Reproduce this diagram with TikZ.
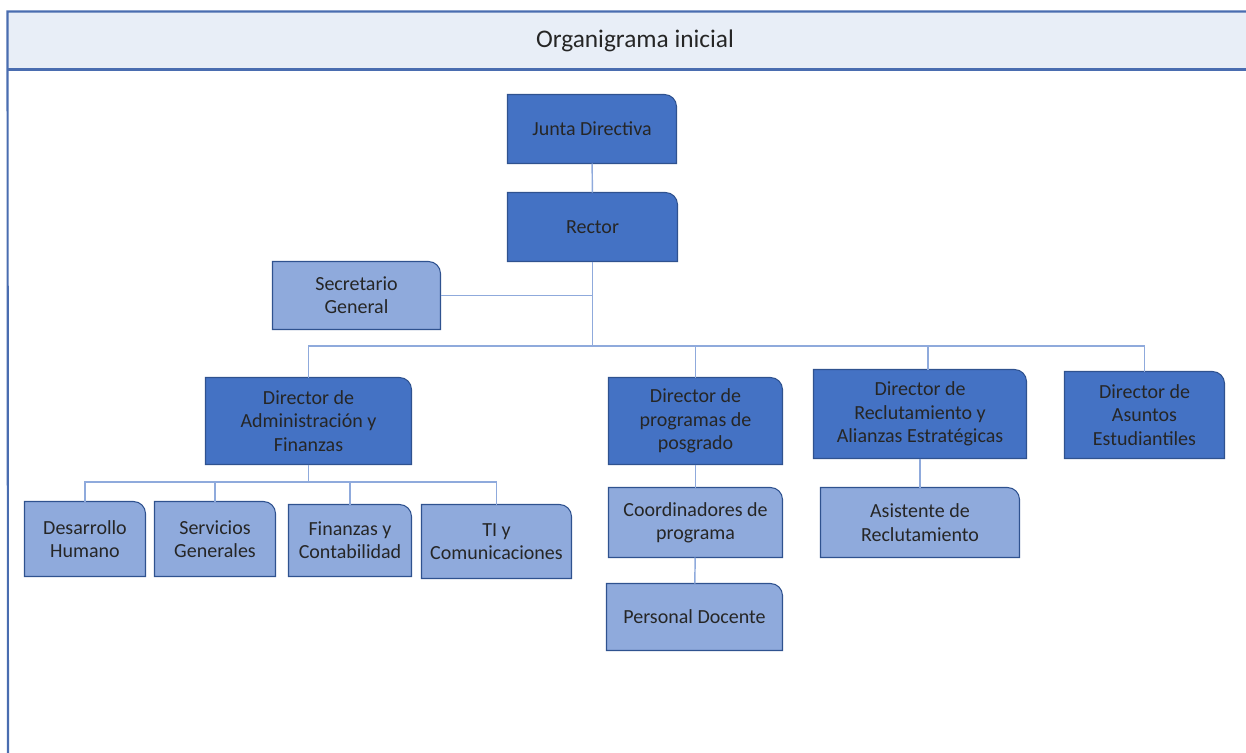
\documentclass[tikz,border=0pt]{standalone}
\usepackage{fontspec}
\setmainfont{Carlito}
\usetikzlibrary{backgrounds}

\definecolor{darkbox}{HTML}{4472C4}
\definecolor{lightbox}{HTML}{8FAADC}
\definecolor{boxedge}{HTML}{2F528F}
\definecolor{linkblue}{HTML}{8FAADC}
\definecolor{titlefill}{HTML}{E8EEF7}
\definecolor{frameblue}{HTML}{4A6DB0}

\tikzset{every picture/.style={line width=0.75pt}}
\tikzset{
  unit/.style={align=center, inner sep=2pt, text=black!85, font=\fontsize{15}{17.5}\selectfont},
  sz/.style 2 args={minimum width=#1*0.75pt, minimum height=#2*0.75pt},
  titlebar/.style={fill=titlefill, inner sep=0pt,
    minimum width=1254*0.75pt, minimum height=57*0.75pt, text=black!85, font=\fontsize{19}{22}\selectfont},
  frameline/.style={draw=frameblue, line width=1.6pt},
  link/.style={draw=linkblue, line width=1.1pt},
  boxdark/.style={fill=darkbox, draw=boxedge, line width=0.8pt},
  boxlight/.style={fill=lightbox, draw=boxedge, line width=0.8pt}
}

\newcommand{\orgshape}[2]{%
  \filldraw[#2] (#1.south west) -- (#1.north west) -- ([xshift=-9pt]#1.north east)
    arc[start angle=90,end angle=0,radius=9pt] -- (#1.south east) -- cycle;}

\begin{document}
\begin{tikzpicture}[x=0.75pt,y=-0.75pt]

\useasboundingbox (0,0) rectangle (1246,753);

\draw (635,40.5) node [titlebar] (title) {Organigrama inicial};
\draw [frameline] (title.north east) -- (title.north west) -- (8,760);
\draw [frameline] (title.south west) -- (title.south east);

\draw (592,129) node [unit,sz={168}{68}] (jd) {Junta Directiva};
\draw (592.5,227) node [unit,sz={169}{68}] (rec) {Rector};
\draw (356.5,295.5) node [unit,sz={167}{67}] (sec) {Secretario\\General};

\draw (308.5,421) node [unit,sz={205}{86}] (dadm) {Director de\\Administración y\\Finanzas};
\draw (695.5,421) node [unit,sz={173}{86}] (dpos) {Director de\\programas de\\posgrado};
\draw (920,414) node [unit,sz={212}{88}] (drec) {Director de\\Reclutamiento y\\Alianzas Estratégicas};
\draw (1144.5,415) node [unit,sz={159}{86}] (dae) {Director de\\Asuntos\\Estudiantiles};

\draw (85,539) node [unit,sz={120}{74}] (dh) {Desarrollo\\Humano};
\draw (215,539) node [unit,sz={120}{74}] (sg) {Servicios\\Generales};
\draw (350,540.5) node [unit,sz={122}{71}] (fc) {Finanzas y\\Contabilidad};
\draw (496.5,541.5) node [unit,sz={149}{73}] (tic) {TI y\\Comunicaciones};

\draw (695.5,522.5) node [unit,sz={173}{69}] (coord) {Coordinadores de\\programa};
\draw (694.5,617) node [unit,sz={175}{66}] (pd) {Personal Docente};
\draw (920,522.5) node [unit,sz={198}{69}] (asis) {Asistente de\\Reclutamiento};

\begin{scope}[on background layer]
\orgshape{jd}{boxdark}
\orgshape{rec}{boxdark}
\orgshape{sec}{boxlight}
\orgshape{dadm}{boxdark}
\orgshape{dpos}{boxdark}
\orgshape{drec}{boxdark}
\orgshape{dae}{boxdark}
\orgshape{dh}{boxlight}
\orgshape{sg}{boxlight}
\orgshape{fc}{boxlight}
\orgshape{tic}{boxlight}
\orgshape{coord}{boxlight}
\orgshape{pd}{boxlight}
\orgshape{asis}{boxlight}
\end{scope}

\coordinate (bus) at (592.5,346);
\coordinate (adminbus) at (308.5,482);

\draw [link] (jd) -- (rec);
\draw [link] (rec) -- (bus);
\draw [link] (sec) -- (sec -| rec);
\draw [link] (dadm) |- (bus) -| (dae);
\draw [link] (dpos) -- (dpos |- bus);
\draw [link] ([xshift=6pt]drec.north) -- ([xshift=6pt]drec.north |- bus);

\draw [link] (dadm) -- (adminbus);
\draw [link] (dh) |- (adminbus) -| (tic);
\draw [link] (sg) -- (sg |- adminbus);
\draw [link] (fc) -- (fc |- adminbus);

\draw [link] (dpos) -- (coord);
\draw [link] (coord) -- (pd);
\draw [link] (drec) -- (asis);

\end{tikzpicture}
\end{document}
